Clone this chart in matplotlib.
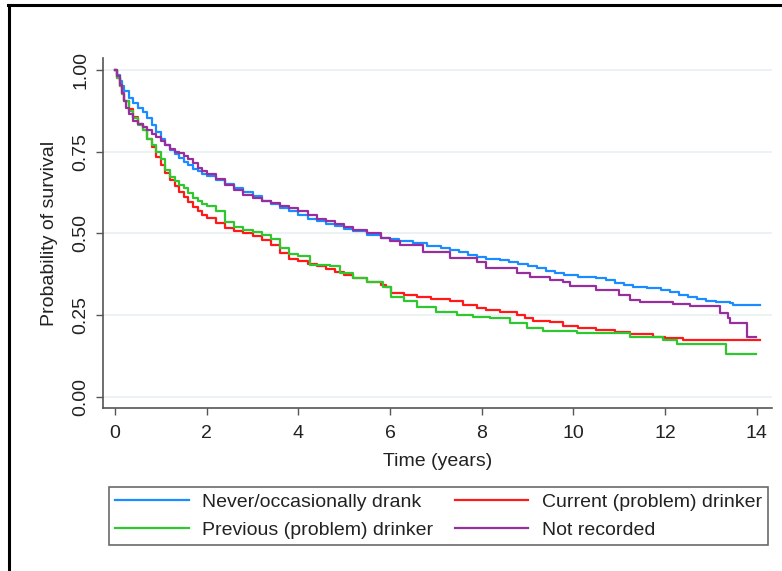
import matplotlib
matplotlib.use("Agg")
from matplotlib import pyplot as plt
from matplotlib.lines import Line2D

# Kaplan-Meier estimates (time in years, survival)
never_t = [0, 0.05, 0.1, 0.15, 0.2, 0.3, 0.4, 0.5, 0.6, 0.7, 0.8, 0.9, 1.0, 1.1, 1.2, 1.3, 1.4,
           1.5, 1.6, 1.7, 1.8, 1.9, 2.0, 2.2, 2.4, 2.6, 2.8, 3.0, 3.2, 3.4, 3.6, 3.8, 4.0, 4.2,
           4.4, 4.6, 4.8, 5.0, 5.2, 5.5, 5.8, 6.0, 6.2, 6.5, 6.8, 7.1, 7.3, 7.5, 7.7, 7.9, 8.1,
           8.4, 8.6, 8.8, 9.0, 9.2, 9.4, 9.6, 9.8, 10.1, 10.5, 10.7, 10.9, 11.1, 11.3, 11.6,
           11.9, 12.1, 12.3, 12.5, 12.7, 12.9, 13.1, 13.41, 13.48, 14.06]
never_s = [1.0, 0.985, 0.965, 0.95, 0.935, 0.915, 0.9, 0.885, 0.87, 0.852, 0.832, 0.81, 0.79,
           0.77, 0.755, 0.742, 0.73, 0.718, 0.708, 0.698, 0.69, 0.682, 0.675, 0.665, 0.652,
           0.64, 0.628, 0.615, 0.6, 0.59, 0.578, 0.568, 0.556, 0.545, 0.538, 0.53, 0.523,
           0.515, 0.507, 0.495, 0.487, 0.482, 0.478, 0.47, 0.462, 0.455, 0.45, 0.443, 0.435,
           0.427, 0.423, 0.419, 0.412, 0.406, 0.4, 0.394, 0.386, 0.378, 0.373, 0.368, 0.363,
           0.357, 0.35, 0.343, 0.337, 0.332, 0.326, 0.32, 0.313, 0.307, 0.30, 0.295, 0.291,
           0.287, 0.281, 0.28]

current_t = [0, 0.05, 0.1, 0.15, 0.2, 0.3, 0.4, 0.5, 0.6, 0.7, 0.8, 0.9, 1.0, 1.1, 1.2, 1.3,
             1.4, 1.5, 1.6, 1.7, 1.8, 1.9, 2.0, 2.2, 2.4, 2.6, 2.8, 3.0, 3.2, 3.4, 3.6, 3.8, 4.0,
             4.2, 4.4, 4.6, 4.8, 5.0, 5.2, 5.5, 5.8, 5.92, 6.03, 6.3, 6.58, 6.9, 7.3, 7.6, 7.89,
             8.1, 8.39, 8.76, 8.95, 9.12, 9.49, 9.77, 10.1, 10.5, 10.9, 11.23, 11.73, 12.0,
             12.39, 14.06]
current_s = [1.0, 0.975, 0.95, 0.925, 0.905, 0.88, 0.857, 0.835, 0.815, 0.79, 0.765, 0.735,
             0.71, 0.685, 0.664, 0.645, 0.628, 0.612, 0.596, 0.582, 0.568, 0.556, 0.547, 0.532,
             0.518, 0.508, 0.5, 0.492, 0.48, 0.465, 0.44, 0.422, 0.415, 0.408, 0.4, 0.39,
             0.382, 0.372, 0.363, 0.352, 0.342, 0.337, 0.317, 0.312, 0.307, 0.3, 0.292, 0.28,
             0.271, 0.266, 0.261, 0.251, 0.242, 0.233, 0.23, 0.217, 0.211, 0.205, 0.199, 0.193,
             0.184, 0.18, 0.174, 0.174]

previous_t = [0, 0.05, 0.1, 0.15, 0.2, 0.3, 0.4, 0.5, 0.6, 0.7, 0.8, 0.9, 1.0, 1.1, 1.2, 1.3,
              1.4, 1.5, 1.6, 1.7, 1.8, 1.9, 2.0, 2.2, 2.4, 2.6, 2.8, 3.0, 3.2, 3.4, 3.6, 3.8,
              4.0, 4.25, 4.69, 4.91, 5.2, 5.49, 5.85, 6.03, 6.3, 6.58, 7.01, 7.45, 7.8, 8.18,
              8.61, 8.98, 9.33, 10.07, 11.08, 11.23, 11.95, 12.25, 13.32, 13.99]
previous_s = [1.0, 0.975, 0.95, 0.925, 0.905, 0.875, 0.852, 0.832, 0.815, 0.79, 0.77, 0.75,
              0.728, 0.695, 0.672, 0.66, 0.648, 0.638, 0.625, 0.61, 0.598, 0.59, 0.585, 0.57,
              0.535, 0.52, 0.51, 0.503, 0.495, 0.483, 0.455, 0.437, 0.43, 0.404, 0.40, 0.378,
              0.365, 0.353, 0.337, 0.307, 0.292, 0.276, 0.261, 0.251, 0.246, 0.241, 0.225,
              0.21, 0.203, 0.197, 0.195, 0.184, 0.174, 0.161, 0.131, 0.131]

notrec_t = [0, 0.05, 0.1, 0.15, 0.2, 0.25, 0.3, 0.4, 0.5, 0.6, 0.7, 0.8, 0.9, 1.0, 1.1, 1.2,
            1.3, 1.4, 1.5, 1.6, 1.7, 1.8, 1.9, 2.0, 2.2, 2.4, 2.6, 2.8, 3.0, 3.2, 3.4, 3.6, 3.8,
            4.0, 4.2, 4.4, 4.6, 4.8, 5.0, 5.2, 5.5, 5.8, 6.0, 6.21, 6.72, 7.3, 7.89, 8.1, 8.76,
            9.05, 9.49, 9.77, 9.92, 10.5, 11.0, 11.23, 11.45, 12.17, 12.54, 13.12, 13.19,
            13.37, 13.41, 13.79, 13.99]
notrec_s = [1.0, 0.98, 0.955, 0.93, 0.905, 0.885, 0.865, 0.845, 0.835, 0.825, 0.815, 0.805,
            0.795, 0.782, 0.77, 0.758, 0.75, 0.745, 0.738, 0.728, 0.715, 0.7, 0.69, 0.682,
            0.668, 0.648, 0.632, 0.618, 0.608, 0.6, 0.593, 0.585, 0.577, 0.57, 0.557, 0.545,
            0.538, 0.53, 0.52, 0.512, 0.5, 0.487, 0.478, 0.465, 0.444, 0.424, 0.414, 0.393,
            0.378, 0.366, 0.358, 0.353, 0.339, 0.327, 0.312, 0.298, 0.289, 0.284, 0.278,
            0.278, 0.256, 0.241, 0.227, 0.183, 0.183]

labels = ["Never/occasionally drank", "Current (problem) drinker",
          "Previous (problem) drinker", "Not recorded"]
yticks = [0.0, 0.25, 0.5, 0.75, 1.0]
xticks = [0, 2, 4, 6, 8, 10, 12, 14]

plt.rcParams['font.family'] = ['Liberation Sans', 'DejaVu Sans']
plt.rcParams['font.size'] = 14

fig = plt.figure(figsize=(7.82, 5.71), dpi=100)
ax = fig.add_axes([0.1317, 0.2855, 0.8555, 0.6130])

ln_never, = ax.plot(never_t, never_s, drawstyle='steps-post', color='#1a8cff', lw=1.6)
ln_current, = ax.plot(current_t, current_s, drawstyle='steps-post', color='#ff1a1a', lw=1.6)
ln_prev, = ax.plot(previous_t, previous_s, drawstyle='steps-post', color='#2ec82e', lw=1.6)
ln_notrec, = ax.plot(notrec_t, notrec_s, drawstyle='steps-post', color='#962e9e', lw=1.6)

ax.set_xlim(-0.262, 14.33)
ax.set_ylim(-0.0336, 1.0367)
ax.set_xticks(xticks)
ax.set_yticks(yticks)
ax.set_yticklabels(["%.2f" % v for v in yticks], rotation=90, va='center')
ax.yaxis.grid(True, color='#e8f0f2', lw=1.2)
ax.set_axisbelow(True)

for s in ['top', 'right']:
    ax.spines[s].set_visible(False)
for s in ['left', 'bottom']:
    ax.spines[s].set_color('#555555')
    ax.spines[s].set_linewidth(1.2)
ax.tick_params(direction='out', length=5, width=1.0, color='#555555', labelcolor='#222222')
ax.tick_params(axis='y', pad=5)
ax.tick_params(axis='x', pad=7)

ax.set_xlabel("Time (years)", color='#222222', labelpad=8)
ax.set_ylabel("Probability of survival", color='#222222', labelpad=10)

# legend: 2 columns, col 1 = never/previous, col 2 = current/not recorded
lx0, lx1 = 109 / 782, 768 / 782
ly0, ly1 = 1 - 547 / 571, 1 - 485 / 571
leg = fig.legend([ln_never, ln_prev, ln_current, ln_notrec],
                 [labels[0], labels[2], labels[1], labels[3]],
                 ncol=2, loc='center', mode='expand',
                 bbox_to_anchor=(lx0, ly0, lx1 - lx0, ly1 - ly0),
                 fancybox=False, frameon=True, handlelength=3.8, handletextpad=0.7,
                 borderpad=0.3, labelspacing=0.55, borderaxespad=0)
leg.get_frame().set_edgecolor('#444444')
leg.get_frame().set_linewidth(1.2)
for t in leg.get_texts():
    t.set_color('#222222')

# image border (top and left)
fig.add_artist(Line2D([8 / 782, 1], [1 - 5 / 571, 1 - 5 / 571], color='black', lw=2.2,
                      transform=fig.transFigure))
fig.add_artist(Line2D([9 / 782, 9 / 782], [0, 1 - 5 / 571], color='black', lw=2.2,
                      transform=fig.transFigure))

fig.savefig("out.png", dpi=100)
